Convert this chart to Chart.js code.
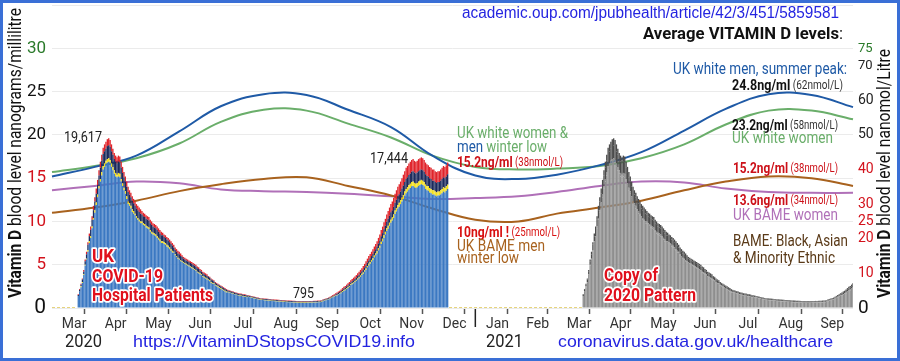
<!DOCTYPE html>
<html>
<head>
<meta charset="utf-8">
<script src="https://cdn.jsdelivr.net/npm/chart.js"></script>
<style>
html, body { margin: 0; padding: 0; background: #fff; }
canvas { display: block; background: #fff; }
</style>
</head>
<body>
<canvas id="chart" width="900" height="361"></canvas>
<script>
// x axis: one category per day, 1 Mar 2020 .. 1 Oct 2021
const firstDay = [2020, 2, 1];
const dayCount = 580;
const monthNames = ['Mar','Apr','May','Jun','Jul','Aug','Sep','Oct','Nov','Dec',
                    'Jan','Feb','Mar','Apr','May','Jun','Jul','Aug','Sep'];
const yearNames = ['2020', '2021'];

// UK COVID-19 hospital patients (thousands), daily from 20 Mar 2020 (day 19)
const hospStart = 19;
const hospBlue = [
  1.4,1.9,2.4,2.9,3.8,4.9,5.6,6.5,7.5,8.1,
  9.2,10.2,11.0,11.9,12.8,13.8,14.6,15.3,16.0,16.3,
  16.6,16.8,16.9,16.7,16.3,15.9,15.5,15.2,15.1,15.2,
  15.1,14.6,14.1,13.6,13.2,12.6,12.0,11.8,11.5,11.1,
  10.9,10.7,10.4,10.2,10.0,9.8,9.8,9.6,9.5,9.3,
  9.2,9.1,8.8,8.6,8.5,8.4,8.3,8.1,7.9,7.7,
  7.5,7.5,7.4,7.3,7.1,7.0,6.8,6.6,6.4,6.4,
  6.1,5.9,5.7,5.6,5.4,5.3,5.2,5.1,5.0,4.9,
  4.8,4.7,4.6,4.5,4.4,4.3,4.1,4.0,3.9,3.8,
  3.6,3.5,3.4,3.3,3.2,3.1,2.9,2.8,2.8,2.6,
  2.5,2.4,
  2.3,2.2,2.1,2.0,1.9,1.8,1.82,1.77,1.72,1.67,
  1.62,1.57,1.52,1.47,1.42,1.4,1.38,1.34,1.3,1.27,
  1.23,1.26,1.23,1.19,1.15,1.11,1.07,1.03,0.99,0.95,
  0.93,0.91,0.9,0.88,0.87,0.85,0.84,0.82,0.8,0.79,
  0.78,0.76,0.75,0.73,0.72,0.71,0.7,0.69,0.68,0.67,
  0.66,0.65,0.64,0.63,0.62,0.61,0.6,0.59,0.59,0.59,
  0.59,0.59,0.59,0.59,0.6,0.6,0.61,0.61,0.62,0.63,
  0.64,0.65,0.66,0.67,0.69,0.79,0.84,0.89,0.94,0.99,
  1.05,1.15,1.25,1.3,1.4,1.45,1.55,1.65,1.7,1.85,
  1.95,2.05,2.2,2.3,2.45,2.65,2.75,2.85,3.0,3.15,
  3.3,3.45,3.6,3.8,3.95,4.2,4.4,4.7,4.9,5.1,
  5.35,5.55,5.85,6.1,6.3,6.65,6.95,7.4,7.7,8.1,
  8.5,8.9,9.15,9.5,9.85,10.1,10.4,10.85,11.15,11.5,
  11.7,12.0,12.3,12.6,13.0,13.25,13.45,13.7,13.85,14.05,
  14.1,13.95,13.85,13.95,14.1,14.2,14.3,14.2,14.05,13.75,
  13.6,13.55,13.35,13.25,13.1,13.1,13.0,12.9,13.0,13.0,
  13.1,13.25,13.45,13.35,13.55,13.75
];
const hospYellow = [
  0,0,0.1,0.1,0.1,0.1,0.1,0.2,0.2,0.2,
  0.2,0.2,0.3,0.3,0.3,0.3,0.3,0.4,0.4,0.4,
  0.4,0.4,0.4,0.4,0.4,0.4,0.4,0.4,0.3,0.4,
  0.4,0.3,0.3,0.3,0.3,0.3,0.3,0.3,0.3,0.3,
  0.3,0.2,0.2,0.2,0.2,0.2,0.2,0.2,0.2,0.2,
  0.2,0.2,0.2,0.2,0.2,0.2,0.2,0.2,0.2,0.2,
  0.2,0.2,0.2,0.2,0.2,0.2,0.2,0.2,0.2,0.1,
  0.1,0.1,0.1,0.1,0.1,0.1,0.1,0.1,0.1,0.1,
  0.1,0.1,0.1,0.1,0.1,0.1,0.1,0.1,0.1,0.1,
  0.1,0.1,0.1,0.1,0.1,0.1,0.1,0.1,0.1,0.1,
  0.1,0.1,0.1,0.1,0.1,0.1,0.1,0.1,0.05,0.05,
  0.05,0.05,0.05,0.05,0.05,0.05,0.05,0.05,0.05,0.05,
  0.05,0.05,0.05,0.05,0.05,0.05,0.05,0.05,0.05,0.05,
  0.05,0.05,0.05,0.05,0.05,0.05,0.05,0.05,0.05,0.05,
  0.05,0.05,0.05,0.05,0.05,0.05,0.05,0.05,0.05,0.05,
  0.05,0.05,0.05,0.05,0.05,0.05,0.05,0.05,0.05,0.05,
  0.05,0.05,0.05,0.05,0.05,0.05,0.05,0.05,0.05,0.05,
  0.05,0.05,0.05,0.05,0.05,0.05,0.05,0.05,0.05,0.05,
  0.05,0.05,0.05,0.05,0.05,0.05,0.05,0.05,0.05,0.05,
  0.1,0.1,0.1,0.1,0.1,0.1,0.1,0.1,0.1,0.1,
  0.1,0.1,0.1,0.1,0.15,0.15,0.15,0.15,0.15,0.15,
  0.2,0.2,0.2,0.2,0.2,0.2,0.25,0.25,0.25,0.25,
  0.3,0.3,0.3,0.3,0.35,0.35,0.35,0.35,0.4,0.4,
  0.4,0.4,0.45,0.45,0.45,0.45,0.45,0.5,0.5,0.5,
  0.5,0.5,0.5,0.5,0.5,0.5,0.5,0.5,0.5,0.5,
  0.5,0.5,0.5,0.5,0.5,0.5,0.5,0.5,0.45,0.45,
  0.45,0.45,0.5,0.5,0.5,0.5,0.5,0.5
];
const hospNavy = [
  0.1,0.2,0.2,0.3,0.3,0.4,0.5,0.6,0.6,0.7,
  0.8,0.9,1.0,1.0,1.1,1.2,1.3,1.3,1.4,1.4,
  1.4,1.5,1.5,1.5,1.4,1.4,1.3,1.3,1.3,1.3,
  1.3,1.3,1.2,1.2,1.1,1.1,1.1,1.0,1.0,1.0,
  0.9,0.9,0.9,0.9,0.9,0.9,0.8,0.8,0.8,0.8,
  0.8,0.8,0.8,0.8,0.7,0.7,0.7,0.7,0.7,0.7,
  0.7,0.7,0.6,0.6,0.6,0.6,0.6,0.6,0.6,0.5,
  0.5,0.5,0.5,0.5,0.5,0.5,0.4,0.4,0.4,0.4,
  0.4,0.4,0.4,0.4,0.4,0.4,0.4,0.4,0.3,0.3,
  0.3,0.3,0.3,0.3,0.3,0.3,0.3,0.3,0.2,0.2,
  0.2,0.2,0.2,0.2,0.2,0.2,0.2,0.2,0.15,0.15,
  0.15,0.15,0.15,0.15,0.15,0.15,0.15,0.15,0.15,0.15,
  0.15,0.15,0.15,0.1,0.1,0.1,0.1,0.1,0.1,0.1,
  0.1,0.1,0.1,0.1,0.1,0.1,0.1,0.1,0.1,0.1,
  0.1,0.1,0.1,0.1,0.1,0.1,0.1,0.1,0.1,0.1,
  0.1,0.1,0.1,0.1,0.1,0.1,0.1,0.1,0.1,0.1,
  0.1,0.1,0.1,0.1,0.1,0.1,0.1,0.1,0.1,0.1,
  0.1,0.1,0.1,0.1,0.1,0.1,0.1,0.1,0.1,0.1,
  0.1,0.1,0.1,0.1,0.1,0.1,0.1,0.15,0.15,0.15,
  0.15,0.15,0.2,0.2,0.2,0.2,0.2,0.2,0.25,0.25,
  0.25,0.25,0.3,0.3,0.3,0.3,0.35,0.35,0.4,0.4,
  0.4,0.45,0.45,0.5,0.5,0.5,0.55,0.55,0.6,0.65,
  0.65,0.7,0.7,0.75,0.8,0.8,0.85,0.85,0.9,0.9,
  0.95,1.0,1.0,1.0,1.05,1.1,1.1,1.15,1.15,1.15,
  1.2,1.2,1.2,1.2,1.2,1.2,1.2,1.2,1.2,1.2,
  1.2,1.2,1.15,1.15,1.15,1.15,1.1,1.1,1.1,1.1,
  1.1,1.1,1.1,1.15,1.15,1.15,1.15,1.2
];
const hospRed = [
  0.1,0.1,0.1,0.1,0.2,0.2,0.3,0.3,0.3,0.4,
  0.4,0.5,0.5,0.6,0.6,0.6,0.7,0.7,0.7,0.8,
  0.8,0.8,0.8,0.8,0.8,0.7,0.7,0.7,0.7,0.7,
  0.7,0.7,0.7,0.6,0.6,0.6,0.6,0.5,0.5,0.5,
  0.5,0.5,0.5,0.5,0.5,0.5,0.4,0.4,0.4,0.4,
  0.4,0.4,0.4,0.4,0.4,0.4,0.4,0.4,0.4,0.4,
  0.4,0.3,0.3,0.3,0.3,0.3,0.3,0.3,0.3,0.3,
  0.3,0.3,0.3,0.3,0.3,0.2,0.2,0.2,0.2,0.2,
  0.2,0.2,0.2,0.2,0.2,0.2,0.2,0.2,0.2,0.2,
  0.2,0.2,0.2,0.2,0.1,0.1,0.1,0.1,0.1,0.1,
  0.1,0.1,0.1,0.1,0.1,0.1,0.1,0.1,0.08,0.08,
  0.08,0.08,0.08,0.08,0.08,0.08,0.08,0.08,0.08,0.08,
  0.08,0.08,0.08,0.06,0.06,0.06,0.06,0.06,0.06,0.06,
  0.06,0.06,0.06,0.06,0.06,0.06,0.06,0.06,0.06,0.06,
  0.06,0.06,0.06,0.06,0.06,0.06,0.06,0.06,0.06,0.06,
  0.06,0.06,0.06,0.06,0.06,0.06,0.06,0.06,0.06,0.06,
  0.06,0.06,0.06,0.06,0.06,0.06,0.06,0.06,0.06,0.06,
  0.06,0.06,0.06,0.06,0.06,0.06,0.06,0.06,0.06,0.06,
  0.06,0.06,0.1,0.1,0.1,0.15,0.15,0.15,0.15,0.15,
  0.2,0.2,0.2,0.2,0.2,0.25,0.25,0.25,0.25,0.3,
  0.3,0.3,0.3,0.35,0.35,0.35,0.4,0.4,0.45,0.45,
  0.5,0.5,0.5,0.55,0.55,0.6,0.6,0.65,0.7,0.7,
  0.75,0.8,0.8,0.85,0.9,0.95,0.95,1.0,1.0,1.05,
  1.1,1.1,1.15,1.15,1.2,1.25,1.25,1.3,1.3,1.35,
  1.35,1.35,1.4,1.35,1.35,1.35,1.4,1.4,1.4,1.4,
  1.35,1.35,1.35,1.3,1.3,1.3,1.3,1.3,1.25,1.25,
  1.25,1.25,1.3,1.3,1.3,1.3,1.3,1.35
];
// the grey 2021 bars are the same 2020 figures moved on one year
const copyShift = 365;

// average vitamin D (ng/ml) on the 1st of each month, Mar 2020 .. Oct 2021
const whiteMen   = [15.2,16.3,17.6,20.4,23.3,24.7,24.6,22.9,20.9,17.6,15.3,14.9,15.4,16.5,18.0,20.5,23.0,24.7,24.6,23.2];
const whiteWomen = [15.7,16.4,17.3,19.0,21.5,22.9,22.8,21.3,19.7,17.6,16.3,16.0,16.1,16.4,17.3,18.9,21.2,22.8,22.8,21.8];
const bameMen    = [11.0,11.6,12.4,13.5,14.3,14.9,15.1,14.1,13.0,11.5,10.2,10.0,10.9,11.6,12.4,13.6,14.6,15.2,15.0,14.1];
const bameWomen  = [13.6,14.1,14.6,14.4,13.7,13.5,13.4,13.2,12.9,12.6,12.7,12.9,13.4,14.1,14.6,14.5,13.8,13.4,13.3,13.3];

// right axis in nmol/L (= ng/ml * 2.5)
const nmolTicks = [0, 10, 20, 25, 30, 40, 50, 60, 70, 75];

// ---- build the day axis ----
const labels = [];
const monthStarts = [];
for (let i = 0; i < dayCount; i++) {
  const d = new Date(Date.UTC(firstDay[0], firstDay[1], firstDay[2] + i));
  labels.push(d.toISOString().slice(0, 10));
  if (d.getUTCDate() === 1) monthStarts.push(i);
}
const midTicks = {};
for (let k = 0; k < monthNames.length; k++) {
  midTicks[Math.round((monthStarts[k] + monthStarts[k + 1]) / 2)] = monthNames[k];
}
const tickList = monthStarts.slice(0, monthNames.length)
  .concat(Object.keys(midTicks).map(Number))
  .sort((a, b) => a - b)
  .map(v => ({ value: v }));
const yearTick = monthStarts[10];

function daily(arr, offset) {
  const out = new Array(dayCount).fill(null);
  arr.forEach((v, k) => { if (offset + k < dayCount) out[offset + k] = v; });
  return out;
}
function monthly(arr) {
  const out = new Array(dayCount).fill(null);
  arr.forEach((v, k) => { out[monthStarts[k]] = v; });
  return out;
}
const hospEnd = hospStart + hospBlue.length;
const baseline = labels.map((l, i) => (i < hospStart || (i >= hospEnd && i < hospStart + copyShift)) ? 0 : null);

const leftColors = {0: '#111', 5: '#d3121c', 10: '#d3121c', 15: '#d3121c', 20: '#111', 25: '#111', 30: '#2a7a2a', 35: '#111'};
const rightColors = {0: '#111', 10: '#d3121c', 20: '#d3121c', 25: '#d3121c', 30: '#d3121c', 40: '#d3121c',
                     50: '#222', 60: '#222', 70: '#222', 75: '#2a7a2a'};

const bar = { type: 'bar', stack: 'hosp', order: 0, barPercentage: 0.97, categoryPercentage: 1, borderWidth: 0 };
const line = { type: 'line', order: 1, pointRadius: 0, borderWidth: 2, tension: 0.4, spanGaps: true, fill: false };

// ---- text drawing ----
function put(ctx, parts, x, y, w, opt) {
  opt = opt || {};
  ctx.save();
  ctx.textBaseline = 'middle';
  ctx.textAlign = 'left';
  let total = 0;
  parts.forEach(p => { ctx.font = p[1]; total += ctx.measureText(p[0]).width; });
  const sx = w ? w / total : 1;
  ctx.translate(x, y);
  if (opt.rotate) ctx.rotate(-Math.PI / 2);
  ctx.scale(sx, 1);
  let cx = 0;
  parts.forEach(p => {
    ctx.font = p[1];
    if (opt.outline) {
      ctx.lineWidth = 3.5; ctx.strokeStyle = '#fff'; ctx.lineJoin = 'round';
      ctx.strokeText(p[0], cx, 0);
    }
    ctx.fillStyle = p[2];
    ctx.fillText(p[0], cx, 0);
    cx += ctx.measureText(p[0]).width;
  });
  ctx.restore();
}

const R = 'Roboto';
const A = '"Liberation Sans", Arial';
const linkBlue = '#2424e0';
const red = '#cc1018';

const textPlugin = {
  id: 'texts',
  afterDraw(chart) {
    const ctx = chart.ctx;
    const area = chart.chartArea;

    // the longer year tick on 1 Jan 2021
    const px = chart.scales.x.getPixelForValue(yearTick);
    ctx.save();
    ctx.strokeStyle = '#222'; ctx.lineWidth = 1.5;
    ctx.beginPath(); ctx.moveTo(px, area.bottom + 1); ctx.lineTo(px, area.bottom + 19); ctx.stroke();
    ctx.restore();

    // axis titles
    put(ctx, [['Vitamin D', 'bold 18px ' + R, '#111'], [' blood level nanograms/millilitre', '18px ' + R, '#111']], 16, 298, 290, {rotate: true});
    put(ctx, [['Vitamin D', 'bold 18px ' + R, '#111'], [' blood level nanomol/Litre', '18px ' + R, '#111']], 885, 298, 249, {rotate: true});

    // header
    put(ctx, [['academic.oup.com/jpubhealth/article/42/3/451/5859581', '16px ' + A, linkBlue]], 462, 14, 377);
    put(ctx, [['Average VITAMIN D levels', 'bold 17px ' + R, '#111'], [':', '17px ' + R, '#111']], 643, 35, 200);

    // right-hand notes
    put(ctx, [['UK white men, summer peak:', '16px ' + R, '#1f5aa6']], 673, 70, 174);
    put(ctx, [['24.8ng/ml', 'bold 15px ' + R, '#111'], [' (62nmol/L)', '12px ' + R, '#333']], 732, 86, 111);
    put(ctx, [['23.2ng/ml', 'bold 15px ' + R, '#111'], [' (58nmol/L)', '12px ' + R, '#333']], 732, 126, 106);
    put(ctx, [['UK white women', '16px ' + R, '#6aae6a']], 732, 139, 101);
    put(ctx, [['15.2ng/ml', 'bold 15px ' + R, red], [' (38nmol/L)', '12px ' + R, red]], 733, 169, 105);
    put(ctx, [['13.6ng/ml', 'bold 15px ' + R, red], [' (34nmol/L)', '12px ' + R, red]], 733, 201, 105);
    put(ctx, [['UK BAME women', '16px ' + R, '#b070b8']], 733, 216, 105);
    put(ctx, [['BAME: Black, Asian', '16px ' + R, '#5a3a18']], 733, 242, 115);
    put(ctx, [['& Minority Ethnic', '16px ' + R, '#5a3a18']], 733, 259, 102);

    // middle notes
    put(ctx, [['UK white women &', '16px ' + R, '#6aae6a']], 457, 134, 111);
    put(ctx, [['men', '16px ' + R, '#1f5aa6'], [' winter low', '16px ' + R, '#6aae6a']], 457, 148, 90);
    put(ctx, [['15.2ng/ml', 'bold 15px ' + R, red], [' (38nmol/L)', '12px ' + R, red]], 457, 163, 106);
    put(ctx, [['10ng/ml !', 'bold 15px ' + R, '#d81010'], [' (25nmol/L)', '12px ' + R, '#d81010']], 457, 233, 103);
    put(ctx, [['UK BAME men', '16px ' + R, '#a8621e']], 457, 247, 88);
    put(ctx, [['winter low', '16px ' + R, '#a8621e']], 457, 259, 62);

    // bar captions
    const cap = 'bold 18px ' + R;
    put(ctx, [['UK', cap, '#e0101c']], 92, 257, 22, {outline: true});
    put(ctx, [['COVID-19', cap, '#e0101c']], 92, 277, 71, {outline: true});
    put(ctx, [['Hospital Patients', cap, '#e0101c']], 92, 296, 121, {outline: true});
    put(ctx, [['Copy of', cap, '#e0101c']], 604, 276, 54, {outline: true});
    put(ctx, [['2020 Pattern', cap, '#e0101c']], 604, 296, 92, {outline: true});

    // peak / trough values
    put(ctx, [['19,617', '14px ' + R, '#222']], 64, 138, 38);
    put(ctx, [['17,444', '14px ' + R, '#222']], 370, 159, 38);
    put(ctx, [['795', '14px ' + R, '#222']], 293, 294, 21);

    // footer
    put(ctx, [[yearNames[0], '18px ' + R, '#222']], 65, 342, 37);
    put(ctx, [['https://VitaminDStopsCOVID19.info', '17px ' + A, linkBlue]], 133, 342, 282);
    put(ctx, [[yearNames[1], '18px ' + R, '#222']], 486, 342, 37);
    put(ctx, [['coronavirus.data.gov.uk/healthcare', '17px ' + A, linkBlue]], 558, 342, 275);

    // frame
    ctx.save();
    ctx.strokeStyle = '#3a6fd6'; ctx.lineWidth = 3;
    ctx.strokeRect(1.5, 1.5, chart.width - 3, chart.height - 3);
    ctx.restore();
  }
};

new Chart(document.getElementById('chart'), {
  data: {
    labels: labels,
    datasets: [
      { ...bar, data: daily(hospBlue, hospStart), backgroundColor: '#3b78c2' },
      { ...bar, data: daily(hospYellow, hospStart), backgroundColor: '#f2de1e' },
      { ...bar, data: daily(hospNavy, hospStart), backgroundColor: '#1b2a5c' },
      { ...bar, data: daily(hospRed, hospStart), backgroundColor: '#e0232a' },
      { ...bar, data: daily(hospBlue, hospStart + copyShift), backgroundColor: '#8e8e8e' },
      { ...bar, data: daily(hospYellow, hospStart + copyShift), backgroundColor: '#8e8e8e' },
      { ...bar, data: daily(hospNavy, hospStart + copyShift), backgroundColor: '#4c4c4c' },
      { ...bar, data: daily(hospRed, hospStart + copyShift), backgroundColor: '#4c4c4c' },
      { ...line, stack: 'l1', data: monthly(whiteMen), borderColor: '#1f5aa6' },
      { ...line, stack: 'l2', data: monthly(whiteWomen), borderColor: '#6aae6a' },
      { ...line, stack: 'l3', data: monthly(bameMen), borderColor: '#a8621e' },
      { ...line, stack: 'l4', data: monthly(bameWomen), borderColor: '#b070b8' },
      { type: 'line', stack: 'l5', order: 2, data: baseline, borderColor: '#e6d37c', borderWidth: 2,
        borderDash: [3, 2], pointRadius: 0, spanGaps: false, fill: false }
    ]
  },
  options: {
    responsive: false,
    animation: false,
    devicePixelRatio: 1,
    layout: { padding: { top: 5, left: 0, right: 0, bottom: 0 } },
    plugins: { legend: { display: false }, tooltip: { enabled: false } },
    scales: {
      x: {
        stacked: true,
        offset: false,
        border: { display: false },
        grid: {
          drawOnChartArea: false, tickLength: 6, tickWidth: 1.5,
          tickColor: c => (c.tick && midTicks[c.tick.value]) ? 'rgba(0,0,0,0)' : '#555'
        },
        ticks: {
          autoSkip: false, maxRotation: 0, minRotation: 0, padding: 2,
          color: '#333', font: { family: R, size: 14 },
          callback: v => midTicks[v] || ''
        },
        afterBuildTicks: s => { s.ticks = tickList.map(t => ({ value: t.value })); },
        afterFit: s => { s.height = 53; s.paddingLeft = 0; s.paddingRight = 0; }
      },
      y: {
        stacked: true,
        position: 'left',
        min: 0, max: 35,
        border: { display: false },
        grid: { color: '#ebebeb', drawTicks: false },
        ticks: {
          stepSize: 5, padding: 6,
          callback: v => v === 35 ? '' : v,
          color: c => c.tick ? leftColors[c.tick.value] : '#111',
          font: c => ({ family: R, size: (c.tick && c.tick.value === 0) ? 21 : 17 })
        },
        afterFit: s => { s.width = 52; s.paddingTop = 0; s.paddingBottom = 0; }
      },
      y2: {
        position: 'right',
        min: 0, max: 87.5,
        border: { display: false },
        grid: { drawOnChartArea: false, drawTicks: false },
        afterBuildTicks: s => { s.ticks = nmolTicks.map(v => ({ value: v })); },
        ticks: {
          padding: 5,
          color: c => c.tick ? rightColors[c.tick.value] : '#111',
          font: c => ({ family: R, size: !c.tick ? 14 : c.tick.value === 0 ? 19 : c.tick.value >= 70 ? 13 : 14 })
        },
        afterFit: s => { s.width = 47; s.paddingTop = 0; s.paddingBottom = 0; }
      }
    }
  },
  plugins: [textPlugin]
});
</script>
</body>
</html>
